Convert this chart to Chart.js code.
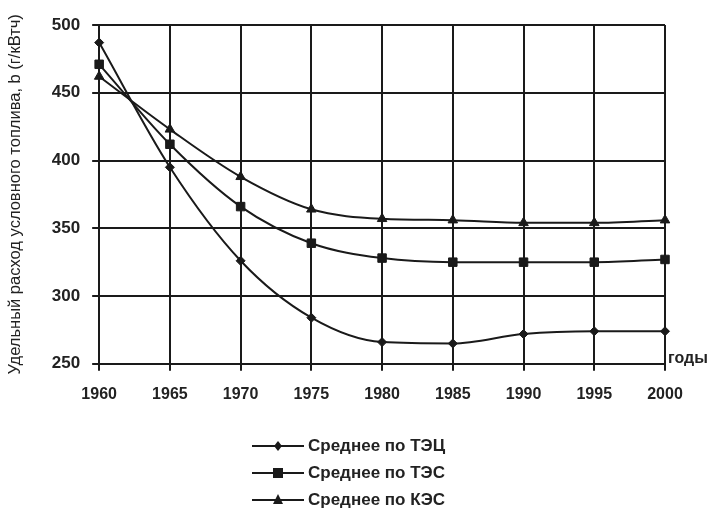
<!DOCTYPE html>
<html><head><meta charset="utf-8">
<script src="https://cdn.jsdelivr.net/npm/chart.js@4"></script>
<style>
html,body{margin:0;padding:0;background:#fff;}
#wrap{position:relative;width:715px;height:513px;}
#legend{position:absolute;left:252px;top:432px;font-family:"Liberation Sans",Arial,sans-serif;font-weight:bold;font-size:17px;color:#222;}
#legend div{height:27px;display:flex;align-items:center;}
#legend svg{margin-right:4px;}
#years{position:absolute;left:668px;top:349px;font-family:"Liberation Sans",Arial,sans-serif;font-weight:bold;font-size:16px;color:#222;}
</style></head>
<body><div id="wrap"><canvas id="c" width="715" height="513"></canvas>
<div id="years">годы</div>
<div id="legend"></div></div>
<script>
const years = ['1960','1965','1970','1975','1980','1985','1990','1995','2000'];
const tecValues = [487, 395, 326, 284, 266, 265, 272, 274, 274];
const tesValues = [471, 412, 366, 339, 328, 325, 325, 325, 327];
const kesValues = [462, 423, 388, 364, 357, 356, 354, 354, 356];
const seriesNames = ['Среднее по ТЭЦ', 'Среднее по ТЭС', 'Среднее по КЭС'];
const yTitle = 'Удельный расход условного топлива, b (г/кВтч)';

const ink = '#1a1a1a';
const mk = [
  {style:'rectRot', r:4.5},
  {style:'rect', r:6},
  {style:'triangle', r:5.5}
];
const vals = [tecValues, tesValues, kesValues];
const datasets = vals.map((v,i)=>({
  label: seriesNames[i], data: v,
  borderColor: ink, backgroundColor: ink, borderWidth: 2,
  pointStyle: mk[i].style, pointRadius: mk[i].r, pointBorderWidth: 1,
  pointBackgroundColor: ink, pointBorderColor: ink,
  cubicInterpolationMode: 'monotone', fill:false
}));

new Chart(document.getElementById('c'), {
  type: 'line',
  data: { labels: years, datasets },
  options: {
    responsive: false, animation: false,
    layout: { padding: { left: 6, right: 50, top: 25, bottom: 95 } },
    plugins: { legend: { display: false }, tooltip: { enabled: false } },
    scales: {
      x: {
        offset: false,
        grid: { color: ink, lineWidth: 2, tickLength: 7, drawTicks: true },
        border: { color: ink, width: 2 },
        ticks: { color: '#222', font: { family: '"Liberation Sans", Arial', size: 16, weight: 'bold' }, padding: 14, maxRotation: 0 }
      },
      y: {
        min: 250, max: 500,
        grid: { color: ink, lineWidth: 2, tickLength: 7 },
        border: { color: ink, width: 2 },
        ticks: { stepSize: 50, color: '#222', font: { family: '"Liberation Sans", Arial', size: 17, weight: 'bold' }, padding: 12 },
        title: { display: true, text: yTitle, color: '#222', font: { family: '"Liberation Sans", Arial', size: 16.5 }, padding: { top: 0, bottom: 14 } }
      }
    }
  }
});

const lg = document.getElementById('legend');
const shapes = [
  '<polygon points="26,5 30,10 26,15 22,10" fill="#1a1a1a"/>',
  '<rect x="21" y="5" width="10" height="10" fill="#1a1a1a"/>',
  '<polygon points="26,4 31,14 21,14" fill="#1a1a1a"/>'
];
seriesNames.forEach((n,i)=>{
  const d = document.createElement('div');
  d.innerHTML = '<svg width="52" height="20"><line x1="0" y1="10" x2="52" y2="10" stroke="#1a1a1a" stroke-width="2"/>'+shapes[i]+'</svg><span>'+n+'</span>';
  lg.appendChild(d);
});
</script></body></html>
